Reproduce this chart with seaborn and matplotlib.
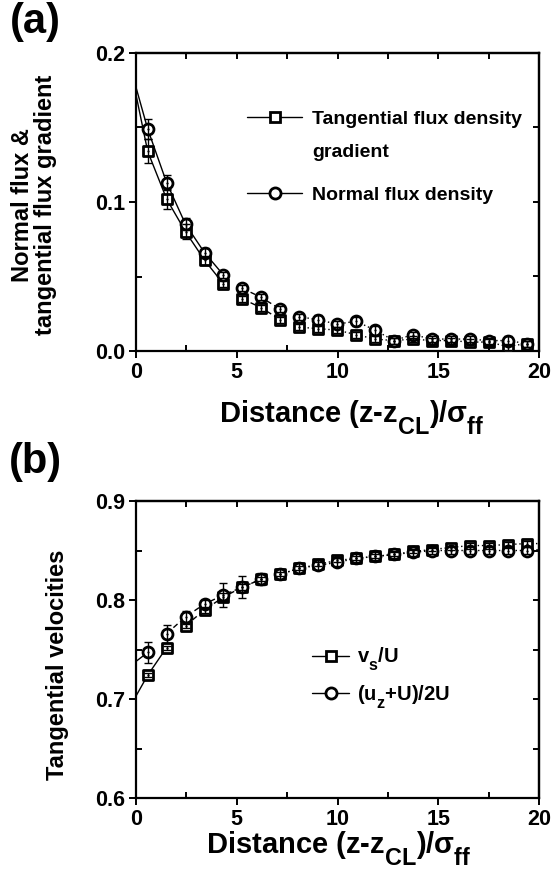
import numpy as np
import pandas as pd
import matplotlib
matplotlib.use("Agg")
import matplotlib.pyplot as plt
from matplotlib.lines import Line2D
from matplotlib.ticker import MultipleLocator
import seaborn as sns

# ---------------- data ----------------
dist = [0.58, 1.52, 2.46, 3.40, 4.34, 5.28, 6.22, 7.16, 8.10, 9.04, 9.98,
        10.92, 11.86, 12.80, 13.74, 14.68, 15.62, 16.56, 17.50, 18.44, 19.38]

tan_grad = [0.134, 0.102, 0.080, 0.061, 0.045, 0.035, 0.029, 0.021, 0.016, 0.015, 0.014,
            0.011, 0.008, 0.007, 0.008, 0.007, 0.007, 0.006, 0.006, 0.003, 0.005]
tan_grad_err = [0.008, 0.007, 0.005, 0.003, 0.002, 0.002, 0.002, 0.002, 0.002, 0.002, 0.002,
                0.002, 0.002, 0.002, 0.002, 0.002, 0.002, 0.002, 0.002, 0.002, 0.002]
normal_flux = [0.149, 0.113, 0.085, 0.066, 0.051, 0.042, 0.036, 0.028, 0.023, 0.021, 0.018,
               0.020, 0.014, 0.007, 0.011, 0.008, 0.008, 0.008, 0.007, 0.007, 0.005]
normal_flux_err = [0.007, 0.005, 0.004, 0.003, 0.002, 0.002, 0.002, 0.002, 0.002, 0.003, 0.002,
                   0.003, 0.003, 0.002, 0.002, 0.002, 0.002, 0.002, 0.002, 0.003, 0.002]
tan_grad_start = 0.172
normal_flux_start = 0.177

vs_U = [0.724, 0.752, 0.774, 0.790, 0.803, 0.813, 0.821, 0.826, 0.832, 0.836, 0.840,
        0.842, 0.844, 0.846, 0.849, 0.851, 0.853, 0.855, 0.855, 0.856, 0.857]
vs_U_err = [0.002, 0.002, 0.002, 0.003, 0.004, 0.003, 0.002, 0.002, 0.002, 0.002, 0.002,
            0.002, 0.002, 0.002, 0.002, 0.002, 0.002, 0.003, 0.003, 0.003, 0.003]
uz_U = [0.747, 0.766, 0.783, 0.796, 0.805, 0.813, 0.821, 0.826, 0.832, 0.835, 0.838,
        0.842, 0.844, 0.846, 0.848, 0.850, 0.850, 0.850, 0.850, 0.850, 0.850]
uz_U_err = [0.011, 0.009, 0.006, 0.004, 0.012, 0.011, 0.006, 0.005, 0.005, 0.005, 0.004,
            0.004, 0.004, 0.004, 0.004, 0.004, 0.004, 0.004, 0.004, 0.004, 0.004]
vs_U_start, vs_U_end = 0.703, 0.857
uz_U_start, uz_U_end = 0.738, 0.851

label_a1 = "Tangential flux density"
label_a1b = "gradient"
label_a2 = "Normal flux density"
label_b1 = r"v$_{s}$/U"
label_b2 = r"(u$_{z}$+U)/2U"
xlabel = r"Distance (z-z$_{CL}$)/$\sigma_{ff}$"
ylabel_a = "Normal flux &\ntangential flux gradient"
ylabel_b = "Tangential velocities"

# ---------------- style ----------------
sns.set_theme(style="ticks")
plt.rcParams["font.family"] = ["Liberation Sans", "DejaVu Sans"]
plt.rcParams["font.weight"] = "bold"
plt.rcParams["axes.labelweight"] = "bold"
for k in ["text.color", "axes.labelcolor", "xtick.color", "ytick.color", "axes.edgecolor"]:
    plt.rcParams[k] = "black"
plt.rcParams["mathtext.fontset"] = "custom"
plt.rcParams["mathtext.rm"] = "Liberation Sans:bold"
plt.rcParams["mathtext.it"] = "Liberation Sans:bold"
plt.rcParams["mathtext.bf"] = "Liberation Sans:bold"
plt.rcParams["mathtext.sf"] = "Liberation Sans:bold"
try:  # larger, lower subscripts like the original figure
    import matplotlib._mathtext as _mt
    _mt.SHRINK_FACTOR = 0.8
    _mt.FontConstantsBase.sub1 = 0.75
    _mt.FontConstantsBase.subdrop = 0.6
except Exception:
    pass

W, H = 553, 890
fig = plt.figure(figsize=(W / 100, H / 100), dpi=100)
fig.patch.set_facecolor("white")


def px_axes(left, top, right, bottom):
    return fig.add_axes([left / W, 1 - bottom / H, (right - left) / W, (bottom - top) / H])


ax1 = px_axes(136, 53, 539, 351)
ax2 = px_axes(136, 501, 539, 798)


def draw_series(ax, x, y, err, x0, y0, marker, msize, breaks, x_end=None, y_end=None):
    xs = [x0] + list(x)
    ys = [y0] + list(y)
    if x_end is not None:
        xs = xs + [x_end]
        ys = ys + [y_end]
    df = pd.DataFrame({"x": xs, "y": ys})
    b1, b2 = breaks
    segs = [(df[df.x <= b1], "-"),
            (df[(df.x >= b1) & (df.x <= b2)], (0, (4, 2.5))),
            (df[df.x >= b2], (0, (1, 2)))]
    for sub, ls in segs:
        if len(sub) < 2:
            continue
        sns.lineplot(data=sub, x="x", y="y", ax=ax, color="black", lw=1.0,
                     estimator=None, sort=False, zorder=2, linestyle=ls)
    pts = pd.DataFrame({"x": x, "y": y})
    sns.scatterplot(data=pts, x="x", y="y", ax=ax, marker=marker, s=msize,
                    facecolor="white", edgecolor="black", linewidth=2.0, zorder=3)
    sns.scatterplot(data=pts, x="x", y="y", ax=ax, marker="o", s=2.5,
                    color="black", linewidth=0, zorder=4)
    ax.errorbar(x, y, yerr=err, fmt="none", ecolor="black", elinewidth=1.0,
                capsize=3, capthick=1.0, zorder=5)


draw_series(ax1, dist, tan_grad, tan_grad_err, 0.0, tan_grad_start, "s", 48, (4.4, 7.2))
draw_series(ax1, dist, normal_flux, normal_flux_err, 0.0, normal_flux_start, "o", 62, (4.4, 7.2))

draw_series(ax2, dist, vs_U, vs_U_err, 0.0, vs_U_start, "s", 48, (1.6, 6.3), 20.0, vs_U_end)
draw_series(ax2, dist, uz_U, uz_U_err, 0.0, uz_U_start, "o", 62, (0.6, 6.3), 20.0, uz_U_end)

# ---------------- axes formatting ----------------
for ax, (ylo, yhi, ymaj) in [(ax1, (0.0, 0.2, 0.1)), (ax2, (0.6, 0.9, 0.1))]:
    ax.set_xlim(0, 20)
    ax.set_ylim(ylo, yhi)
    ax.xaxis.set_major_locator(MultipleLocator(5))
    ax.xaxis.set_minor_locator(MultipleLocator(2.5))
    ax.yaxis.set_major_locator(MultipleLocator(ymaj))
    ax.yaxis.set_minor_locator(MultipleLocator(ymaj / 2))
    ax.xaxis.set_major_formatter(matplotlib.ticker.FuncFormatter(lambda v, p: f"{v:.0f}"))
    ax.yaxis.set_major_formatter(matplotlib.ticker.FuncFormatter(lambda v, p: f"{v:.1f}"))
    for s in ax.spines.values():
        s.set_visible(True)
        s.set_linewidth(1.6)
        s.set_color("black")
    ax.tick_params(which="major", direction="out", length=5, width=1.4, color="black",
                   labelsize=15.5, pad=3, labelcolor="black")
    ax.tick_params(which="minor", direction="in", length=4, width=1.4, color="black")
    for lab in ax.get_xticklabels() + ax.get_yticklabels():
        lab.set_fontweight("bold")
    # top / right inward ticks
    sx = ax.secondary_xaxis("top")
    sx.xaxis.set_major_locator(MultipleLocator(2.5))
    sx.tick_params(direction="in", length=4, width=1.4, labeltop=False, color="black")
    sx.spines["top"].set_linewidth(1.6)
    sy = ax.secondary_yaxis("right")
    sy.yaxis.set_major_locator(MultipleLocator(ymaj / 2))
    sy.tick_params(direction="in", length=4, width=1.4, labelright=False, color="black")
    sy.spines["right"].set_linewidth(1.6)
    ax.set_facecolor("white")
    ax.grid(False)

ax1.set_xlabel(xlabel, fontsize=21, fontweight="bold")
ax1.xaxis.set_label_coords(0.536, -0.158)
ax2.set_xlabel(xlabel, fontsize=21, fontweight="bold")
ax2.xaxis.set_label_coords(0.502, -0.104)

ax1.set_ylabel(ylabel_a, fontsize=17, fontweight="bold", linespacing=1.0)
ax1.yaxis.set_label_coords(-0.196, 0.49)
ax2.set_ylabel(ylabel_b, fontsize=17, fontweight="bold")
ax2.yaxis.set_label_coords(-0.166, 0.45)

fig.text(10 / W, 1 - 33 / H, "(a)", fontsize=30, fontweight="bold", va="baseline", ha="left")
fig.text(9 / W, 1 - 473 / H, "(b)", fontsize=30, fontweight="bold", va="baseline", ha="left")

# ---------------- legends ----------------
h_sq = Line2D([], [], color="black", lw=1.0, marker="s", markersize=7,
              markerfacecolor="white", markeredgecolor="black", markeredgewidth=2.0)
h_ci = Line2D([], [], color="black", lw=1.0, marker="o", markersize=8,
              markerfacecolor="white", markeredgecolor="black", markeredgewidth=2.0)
h_none = Line2D([], [], color="none", lw=0)

leg1a = ax1.legend([h_sq, h_none], [label_a1, label_a1b],
                   loc="upper left", bbox_to_anchor=((247 - 136) / 403, (351 - 110) / 298),
                   frameon=False, handlelength=2.85, handletextpad=0.5,
                   labelspacing=0.8, borderpad=0, borderaxespad=0,
                   prop={"weight": "bold", "size": 14})
ax1.add_artist(leg1a)
leg1b = ax1.legend([h_ci], [label_a2],
                   loc="upper left", bbox_to_anchor=((247 - 136) / 403, (351 - 186) / 298),
                   frameon=False, handlelength=2.85, handletextpad=0.5,
                   borderpad=0, borderaxespad=0,
                   prop={"weight": "bold", "size": 14})

leg2 = ax2.legend([h_sq, h_ci], [label_b1, label_b2],
                  loc="upper left", bbox_to_anchor=((312 - 136) / 403, (798 - 646) / 297),
                  frameon=False, handlelength=1.85, handletextpad=0.4,
                  labelspacing=0.5, borderpad=0, borderaxespad=0,
                  prop={"weight": "bold", "size": 14.5})

fig.savefig("out.png", dpi=100, facecolor="white")
